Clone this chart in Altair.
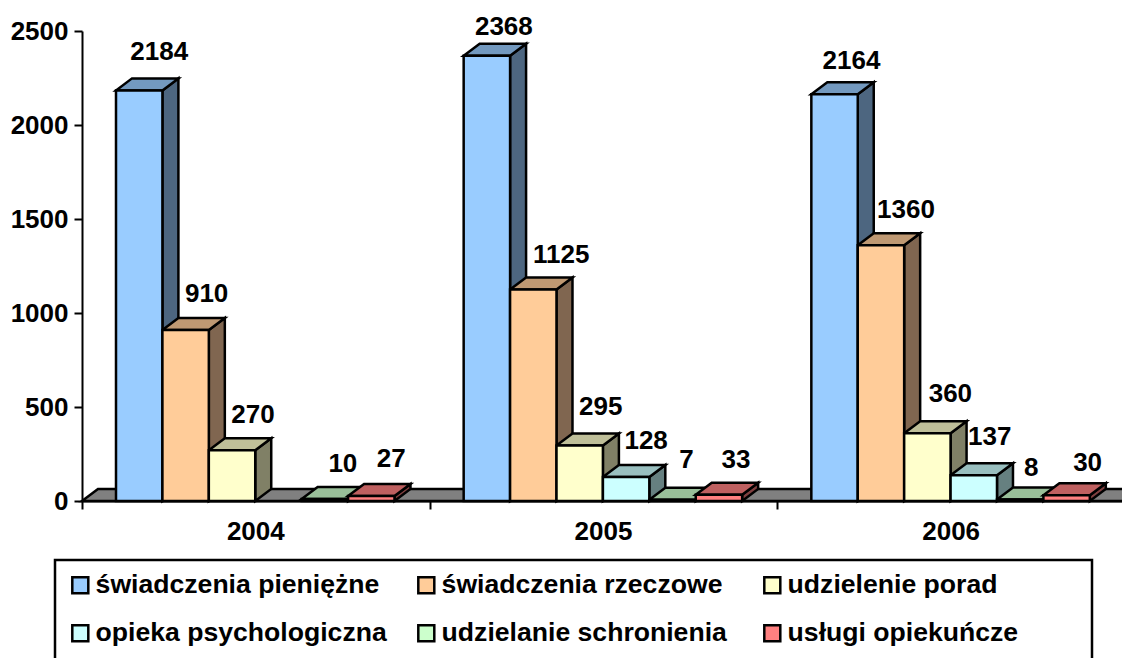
import altair as alt
import pandas as pd

years = ["2004", "2005", "2006"]
series = ["świadczenia pieniężne", "świadczenia rzeczowe", "udzielenie porad",
          "opieka psychologiczna", "udzielanie schronienia", "usługi opiekuńcze"]
v2004 = [2184, 910, 270, None, 10, 27]
v2005 = [2368, 1125, 295, 128, 7, 33]
v2006 = [2164, 1360, 360, 137, 8, 30]
front_colors = ["#99CCFF", "#FFCC99", "#FFFFCC", "#CCFFFF", "#CCFFCC", "#FF8080"]
top_colors = ["#7399BF", "#BF9973", "#BFBF99", "#99BFBF", "#99BF99", "#BF6060"]
side_colors = ["#4D6680", "#806650", "#808066", "#668080", "#668066", "#804040"]

# per-label nudges, in pixels, from the bar's top centre
label_dx = [[20, 21, 21, 0, 18, 20], [17, 28, 21, 20, 14, 17], [17, 25, 23, 16, 11, 21]]
label_dy = [[-38, -36, -35, 0, -35, -37], [-29, -35, -39, -36, -40, -35], [-33, -35, -39, -38, -31, -32]]

START, BAR, DX, DV = 0.0978, 0.1335, 0.046, 64
FONT = "Liberation Sans"
SW = 2.5
xs = alt.Scale(domain=[0, 3], nice=False, zero=False)
ys = alt.Scale(domain=[0, 2500], nice=False)
xaxis = alt.Axis(values=[0, 1, 2, 3], labels=False, tickColor="black", tickSize=8, tickWidth=2,
                 domainColor="black", domainWidth=2, grid=False, title=None)
yaxis = alt.Axis(values=[0, 500, 1000, 1500, 2000, 2500], format="d", labelFont=FONT, labelFontSize=26, labelFontWeight="bold",
                 labelColor="black", tickColor="black", tickSize=8, tickWidth=2, domainColor="black",
                 domainWidth=2, labelPadding=6, grid=False, labelOverlap=False, title=None)

rows = []
for g, vals in enumerate([v2004, v2005, v2006]):
    for i, v in enumerate(vals):
        if v is None:
            continue
        a = g + START + i * BAR
        rows.append(dict(g=g, i=i, s=series[i], v=v, a=a, b=a + BAR, dv=v + DV, ad=a + DX, bd=a + BAR + DX, bc=a + BAR / 2))
bars = pd.DataFrame(rows)

X = lambda f: alt.X(f, type="quantitative", scale=xs, axis=xaxis)
Y = lambda f: alt.Y(f, type="quantitative", scale=ys, axis=yaxis)

floor = pd.DataFrame({"y": [0, DV], "x": [0, DX], "x2": [3, 3 + DX]})
layers = [alt.Chart(floor).mark_area(orient="horizontal", fill="#808080", stroke="black", strokeWidth=SW).encode(
    y=Y("y"), x=X("x"), x2="x2:Q")]

# legend frame, wider than the legend's own content
layers.append(alt.Chart(pd.DataFrame({"k": [0]})).mark_rect(fill="white", stroke="black", strokeWidth=2.5).encode(
    x=alt.value(-27), x2=alt.value(1010), y=alt.value(529), y2=alt.value(650)))

for i in range(6):
    sub = bars[bars.i == i]
    side_rows = []
    top_rows = []
    for r in sub.itertuples():
        side_rows += [dict(g=r.g, x=r.b, y=r.v, y2=0), dict(g=r.g, x=r.bd, y=r.dv, y2=DV)]
        top_rows += [dict(g=r.g, y=r.v, x=r.a, x2=r.b), dict(g=r.g, y=r.dv, x=r.ad, x2=r.bd)]
    layers.append(alt.Chart(pd.DataFrame(side_rows)).mark_area(fill=side_colors[i], stroke="black", strokeWidth=SW).encode(
        x=X("x"), y=Y("y"), y2="y2:Q", detail="g:N"))
    layers.append(alt.Chart(pd.DataFrame(top_rows)).mark_area(orient="horizontal", fill=top_colors[i], stroke="black", strokeWidth=SW).encode(
        y=Y("y"), x=X("x"), x2="x2:Q", detail="g:N"))

layers.append(alt.Chart(bars).mark_rect(stroke="black", strokeWidth=SW).encode(
    x=X("a"), x2="b:Q", y=Y("v"), y2=alt.Y2(datum=0),
    fill=alt.Fill("s:N", scale=alt.Scale(domain=series, range=front_colors), sort=series,
                  legend=alt.Legend(orient="none", direction="horizontal", legendX=-27, legendY=529, columns=3, title=None,
                                    symbolType="square", symbolSize=256, symbolStrokeColor="black", symbolStrokeWidth=2.5,
                                    symbolOpacity=1, labelFont=FONT, labelFontSize=26.6, labelFontWeight="bold",
                                    labelColor="black", labelLimit=400, labelOffset=2, rowPadding=21, columnPadding=26,
                                    gridAlign="all", padding=12, values=series)),
))

for r in bars.itertuples():
    layers.append(alt.Chart(pd.DataFrame([dict(x=r.bc, y=r.v, t=str(r.v))])).mark_text(
        font=FONT, fontSize=26, fontWeight="bold", color="black", baseline="middle", align="center",
        dx=label_dx[r.g][r.i], dy=label_dy[r.g][r.i]).encode(x=X("x"), y=Y("y"), text="t:N"))

ylabels = pd.DataFrame({"x": [0.5, 1.5, 2.5], "t": years})
layers.append(alt.Chart(ylabels).mark_text(font=FONT, fontSize=26, fontWeight="bold", color="black", baseline="middle",
                                           align="center", dy=31).encode(x=X("x"), y=alt.Y(datum=0, scale=ys, axis=yaxis), text="t:N"))

chart = alt.layer(*layers).properties(
    width=1043, height=470,
    autosize=alt.AutoSizeParams(type="none"),
    padding={"left": 74, "top": 23, "right": -3, "bottom": 157},
).configure_view(stroke=None)
chart.save("out.html", embed_options={"renderer": "svg", "actions": False})
